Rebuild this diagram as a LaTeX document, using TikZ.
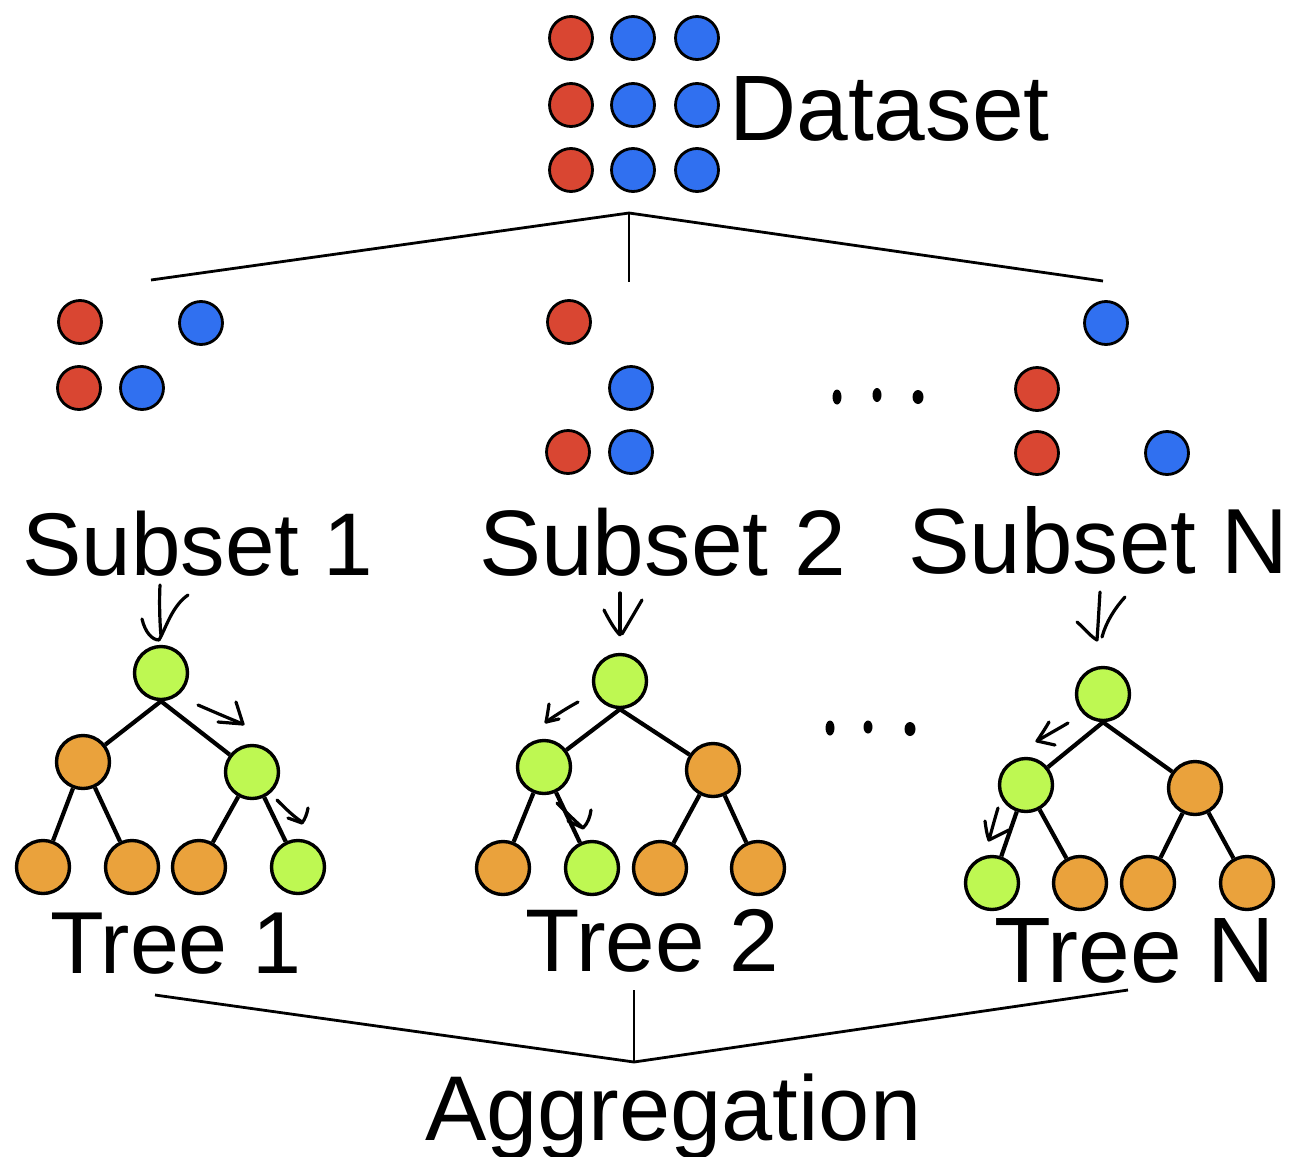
\documentclass[tikz,border=0pt]{standalone}
\usepackage{fontspec}
\setmainfont{Liberation Sans}
\definecolor{cred}{RGB}{217,70,50}
\definecolor{cblue}{RGB}{48,112,240}
\definecolor{cgreen}{RGB}{190,248,82}
\definecolor{corange}{RGB}{234,162,60}
\begin{document}
\begin{tikzpicture}[x=1pt,y=-1pt,
  ddot/.style={circle,draw=black,line width=2.8pt,minimum size=43pt,inner sep=0pt},
  rdot/.style={ddot,fill=cred},
  bdot/.style={ddot,fill=cblue},
  tnode/.style={circle,draw=black,line width=3.4pt,minimum size=53pt,inner sep=0pt},
  gnode/.style={tnode,fill=cgreen},
  onode/.style={tnode,fill=corange},
  lbl/.style={font=\fontsize{#1}{#1}\selectfont,inner sep=0pt,anchor=base west},
  lbl/.default=93,
  tedge/.style={line width=4.2pt},
  forkline/.style={line width=2.8pt},
  hand/.style={line width=3.2pt,line cap=round,line join=round},
  blob/.style={fill=black,draw=none}
]
\useasboundingbox (0,0) rectangle (1289,1156);

% ---------- Dataset ----------
\node[rdot] (d11) at (571,38) {};
\node[bdot] (d12) at (633,38) {};
\node[bdot] (d13) at (697,38) {};
\node[rdot] (d21) at (571,105) {};
\node[bdot] (d22) at (633,105) {};
\node[bdot] (d23) at (697,105) {};
\node[rdot] (d31) at (571,170) {};
\node[bdot] (d32) at (633,170) {};
\node[bdot] (d33) at (697,170) {};
\node[lbl] (dslbl) at (729,140) {Dataset};

% ---------- split fork ----------
\coordinate (ftop) at (629,213);
\coordinate (fl) at (151,280);
\coordinate (fm) at (629,282);
\coordinate (fr) at (1103,281);
\draw[forkline] (fl) -- (ftop) -- (fr);
\draw[forkline] (ftop) -- (fm);

% ---------- Subsets ----------
\node[rdot] (s1a) at (80,322) {};
\node[bdot] (s1b) at (201,323) {};
\node[rdot] (s1c) at (79,388) {};
\node[bdot] (s1d) at (142,388) {};

\node[rdot] (s2a) at (569,322) {};
\node[bdot] (s2b) at (631,388) {};
\node[rdot] (s2c) at (568,452) {};
\node[bdot] (s2d) at (631,452) {};

\node[bdot] (sna) at (1106,323) {};
\node[rdot] (snb) at (1037,389) {};
\node[rdot] (snc) at (1037,453) {};
\node[bdot] (snd) at (1167,453) {};

\fill[blob] (837,397) ellipse (4.5pt and 7.5pt);
\fill[blob] (877,395) ellipse (4.5pt and 7pt);
\fill[blob] (918,397) ellipse (5.5pt and 7pt);

\node[lbl=89] (sub1) at (22,575) {Subset 1};
\node[lbl] (sub2) at (479,575) {Subset 2};
\node[lbl=92.5] (subn) at (908,573) {Subset N};

% ---------- hand arrows subset -> tree ----------
\draw[hand] (160,585) .. controls (159,605) and (160,625) .. (161,636);
\draw[hand] (142,619) .. controls (145,632) and (152,640) .. (159,640) .. controls (166,628) and (172,606) .. (188,595);

\draw[hand] (620,593) .. controls (620,610) and (620,622) .. (620,633);
\draw[hand] (604,610) .. controls (609,620) and (615,630) .. (620,635);
\draw[hand] (642,600) .. controls (635,612) and (628,624) .. (622,634);

\draw[hand] (1100,592) .. controls (1099,608) and (1098,626) .. (1097,640);
\draw[hand] (1077,622) .. controls (1084,628) and (1090,636) .. (1097,640);
\draw[hand] (1125,597) .. controls (1115,608) and (1106,622) .. (1102,637);

% ---------- Tree 1 ----------
\node[gnode] (t1r) at (161,673) {};
\node[onode] (t1a) at (83,762) {};
\node[gnode] (t1b) at (252,772) {};
\node[onode] (t1l1) at (43,867) {};
\node[onode] (t1l2) at (132,867) {};
\node[onode] (t1l3) at (199,867) {};
\node[gnode] (t1l4) at (298,867) {};
\draw[tedge] (t1r.south) -- (t1a);
\draw[tedge] (t1r.south) -- (t1b);
\draw[tedge] (t1a) -- (t1l1);
\draw[tedge] (t1a) -- (t1l2);
\draw[tedge] (t1b) -- (t1l3);
\draw[tedge] (t1b) -- (t1l4);
\draw[hand] (198,705) .. controls (212,711) and (228,718) .. (243,724);
\draw[hand] (236,702) -- (243,724) -- (218,722);
\draw[hand] (277,800) .. controls (285,808) and (293,816) .. (302,822);
\draw[hand] (308,808) .. controls (307,814) and (305,819) .. (302,823) -- (288,818);

% ---------- Tree 2 ----------
\node[gnode] (t2r) at (620,681) {};
\node[gnode] (t2a) at (544,767) {};
\node[onode] (t2b) at (713,770) {};
\node[onode] (t2l1) at (503,868) {};
\node[gnode] (t2l2) at (592,868) {};
\node[onode] (t2l3) at (660,868) {};
\node[onode] (t2l4) at (758,868) {};
\draw[tedge] (t2r.south) -- (t2a);
\draw[tedge] (t2r.south) -- (t2b);
\draw[tedge] (t2a) -- (t2l1);
\draw[tedge] (t2a) -- (t2l2);
\draw[tedge] (t2b) -- (t2l3);
\draw[tedge] (t2b) -- (t2l4);
\draw[hand] (578,702) .. controls (567,708) and (556,715) .. (546,722);
\draw[hand] (549,704) .. controls (548,711) and (547,717) .. (546,722) -- (559,719);
\draw[hand] (557,803) .. controls (565,811) and (574,820) .. (582,827);
\draw[hand] (591,810) .. controls (590,817) and (588,823) .. (583,828) -- (568,821);

% ---------- ellipsis between trees ----------
\fill[blob] (830,728) ellipse (4.5pt and 7.5pt);
\fill[blob] (868,727) ellipse (4.5pt and 6.5pt);
\fill[blob] (910,729) ellipse (5.5pt and 7pt);

% ---------- Tree N ----------
\node[gnode] (tnr) at (1103,694) {};
\node[gnode] (tna) at (1026,785) {};
\node[onode] (tnb) at (1195,788) {};
\node[gnode] (tnl1) at (992,883) {};
\node[onode] (tnl2) at (1080,883) {};
\node[onode] (tnl3) at (1148,883) {};
\node[onode] (tnl4) at (1247,883) {};
\draw[tedge] (tnr.south) -- (tna);
\draw[tedge] (tnr.south) -- (tnb);
\draw[tedge] (tna) -- (tnl1);
\draw[tedge] (tna) -- (tnl2);
\draw[tedge] (tnb) -- (tnl3);
\draw[tedge] (tnb) -- (tnl4);
\draw[hand] (1068,723) .. controls (1058,729) and (1047,735) .. (1037,741);
\draw[hand] (1049,722) .. controls (1045,729) and (1041,735) .. (1037,741) -- (1055,745);
\draw[hand] (998,808) .. controls (995,818) and (992,829) .. (989,840);
\draw[hand] (985,821) .. controls (986,829) and (987,835) .. (989,840) -- (1009,830);

% ---------- Tree labels ----------
\node[lbl=88] (tr1) at (50,973) {Tree 1};
\node[lbl=89] (tr2) at (525,971) {Tree 2};
\node[lbl] (trn) at (994,982) {Tree N};

% ---------- aggregation fork ----------
\coordinate (al) at (155,995);
\coordinate (am) at (634,990);
\coordinate (ar) at (1128,990);
\coordinate (abot) at (634,1062);
\draw[forkline] (al) -- (abot) -- (ar);
\draw[forkline] (am) -- (abot);
\node[lbl=92] (agg) at (425,1140) {Aggregation};
\end{tikzpicture}
\end{document}
